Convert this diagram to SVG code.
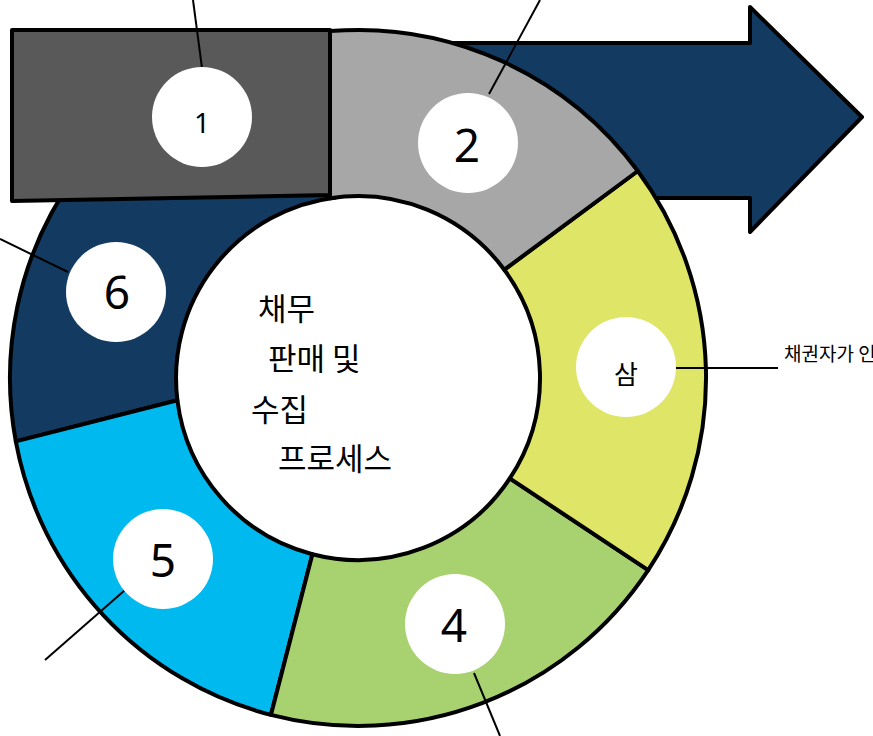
<svg xmlns="http://www.w3.org/2000/svg" width="873" height="736" viewBox="0 0 873 736">
  <style>
    .seg { stroke: #000; stroke-width: 4; stroke-linejoin: round; }
    .badge { fill: #fff; }
    .lead { stroke: #000; stroke-width: 2; fill: none; }
    .num { font-family: "Noto Sans", "Noto Sans CJK KR", sans-serif; fill: #000; text-anchor: middle; }
    .kr { font-family: "Noto Sans CJK KR", "Noto Sans", sans-serif; fill: #000; }
  </style>
  <rect width="873" height="736" fill="#fff"/>

  <g id="arrow">
    <polygon class="seg" fill="#133a61" stroke-linejoin="miter" points="440,43 750,43 750,7 862,117 750,232 750,198 640,198"/>
  </g>

  <g id="seg6">
    <path class="seg" fill="#133a61" d="M15.8,441.4 A348,348 0 0 1 315.6,32.6 L335.8,197.4 A182,182 0 0 0 177.4,400.2 Z"/>
  </g>
  <g id="seg5">
    <path class="seg" fill="#00b9ef" d="M270.9,714.9 A348,348 0 0 1 15.8,441.4 L177.4,400.2 A182,182 0 0 0 312.4,554.2 Z"/>
  </g>
  <g id="seg4">
    <path class="seg" fill="#a8d16f" d="M648.2,570.1 A348,348 0 0 1 270.9,714.9 L312.4,554.2 A182,182 0 0 0 509.8,478.4 Z"/>
  </g>
  <g id="seg3">
    <path class="seg" fill="#dfe567" d="M637.8,171.0 A348,348 0 0 1 648.2,570.1 L509.8,478.4 A182,182 0 0 0 504.3,269.7 Z"/>
  </g>
  <g id="seg2">
    <path class="seg" fill="#a8a7a8" d="M330,31.1 A348,348 0 0 1 637.8,171.0 L504.3,269.7 A182,182 0 0 0 330,198.2 Z"/>
  </g>
  <g id="seg1">
    <path class="seg" fill="#595959" d="M12,30 H330 V195 L12,201 Z"/>
  </g>

  <g id="connectors">
    <line class="lead" x1="193" y1="0" x2="202" y2="68"/>
    <line class="lead" x1="540" y1="0" x2="489" y2="94"/>
    <line class="lead" x1="676" y1="368" x2="778" y2="368"/>
    <line class="lead" x1="474" y1="673" x2="500" y2="736"/>
    <line class="lead" x1="125" y1="590" x2="45" y2="660"/>
    <line class="lead" x1="0" y1="239" x2="68" y2="272"/>
  </g>

  <g id="badge1">
    <circle class="badge" cx="202" cy="117" r="50"/>
    <text class="num" x="202" y="133" font-size="28">1</text>
  </g>
  <g id="badge2">
    <circle class="badge" cx="468" cy="143" r="50"/>
    <text class="num" x="467" y="162" font-size="46">2</text>
  </g>
  <g id="badge3">
    <circle class="badge" cx="626" cy="367" r="50"/>
    <text class="kr" x="626" y="384" font-size="26" text-anchor="middle">삼</text>
  </g>
  <g id="badge4">
    <circle class="badge" cx="455" cy="624" r="50"/>
    <text class="num" x="454" y="642" font-size="46">4</text>
  </g>
  <g id="badge5">
    <circle class="badge" cx="163" cy="559" r="50"/>
    <text class="num" x="163" y="577" font-size="46">5</text>
  </g>
  <g id="badge6">
    <circle class="badge" cx="116" cy="292" r="50"/>
    <text class="num" x="117" y="309" font-size="46">6</text>
  </g>

  <g id="center-label">
    <text class="kr" font-size="31">
      <tspan x="258" y="320">채무</tspan>
      <tspan x="268" y="370">판매 및</tspan>
      <tspan x="251" y="421">수집</tspan>
      <tspan x="278" y="470">프로세스</tspan>
    </text>
  </g>

  <g id="side-label">
    <text class="kr" x="784" y="361" font-size="19">채권자가 인</text>
  </g>
</svg>
